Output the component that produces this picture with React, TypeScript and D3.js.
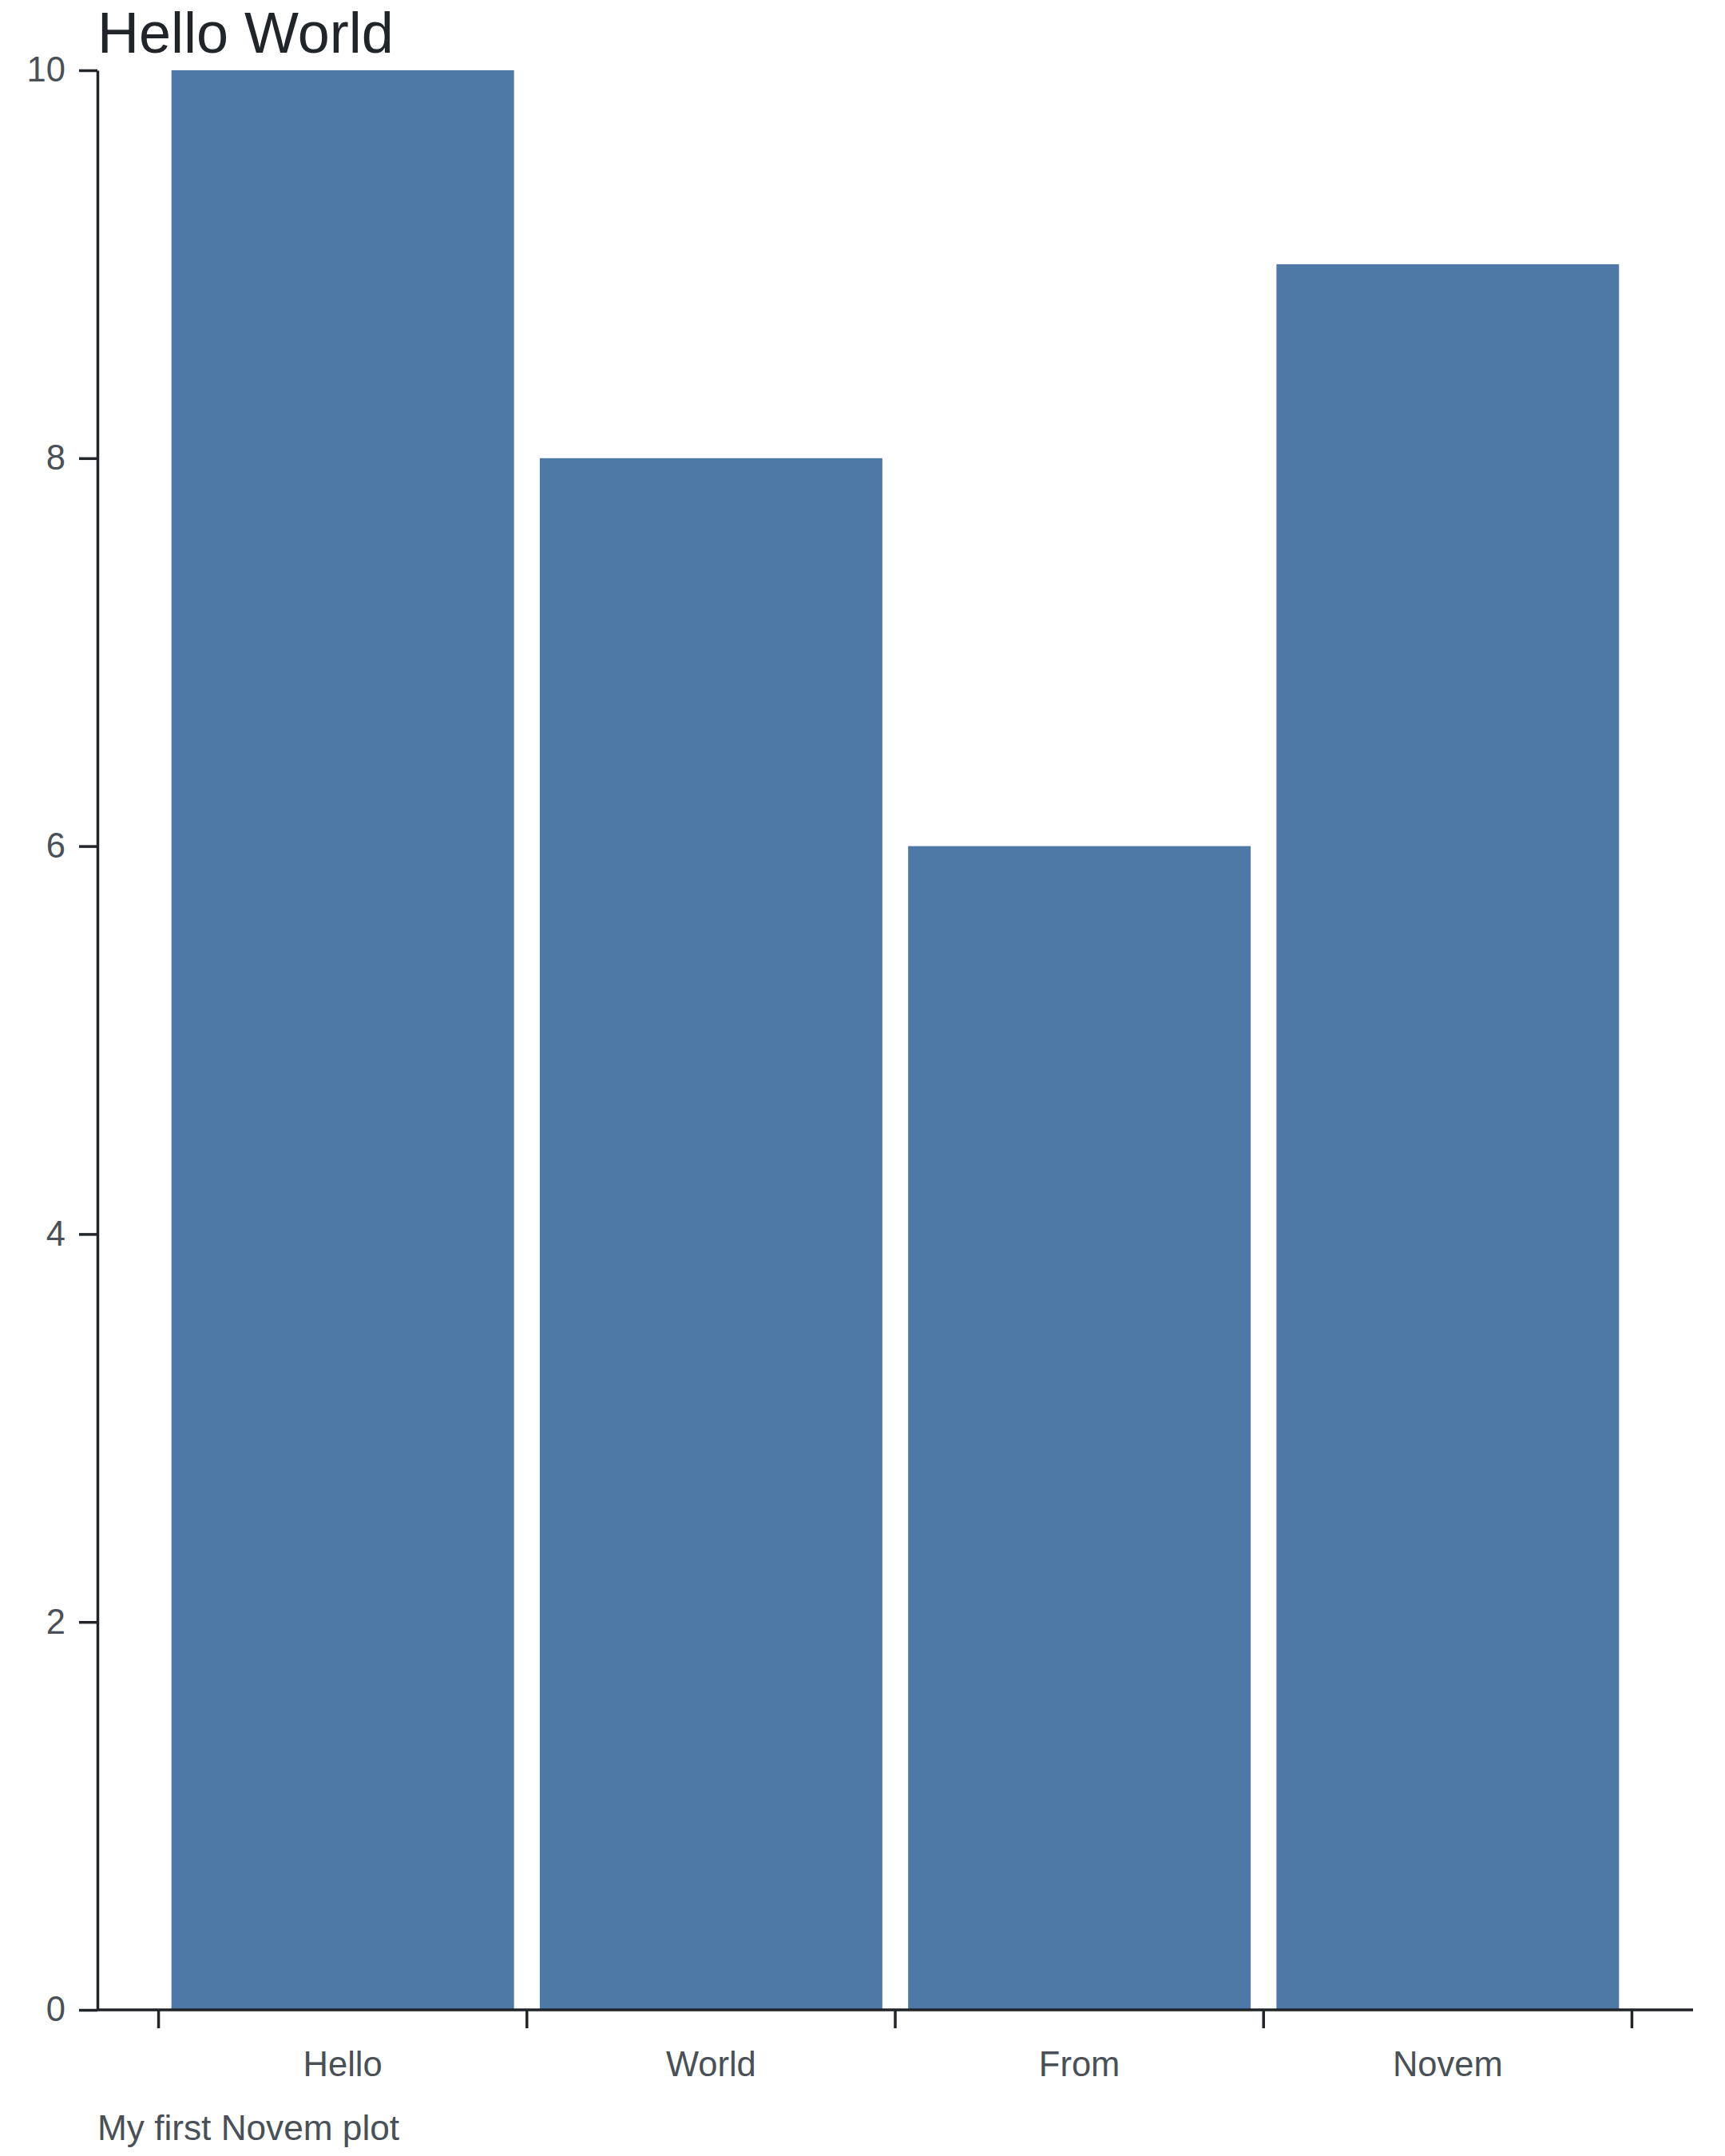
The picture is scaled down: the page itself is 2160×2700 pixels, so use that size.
import React, { useEffect, useRef } from "react";
import * as d3 from "d3";

const categories = ["Hello", "World", "From", "Novem"];
const values = [10, 8, 6, 9];
const yTicks = [0, 2, 4, 6, 8, 10];
const title = "Hello World";
const caption = "My first Novem plot";

const W = 2160;
const H = 2700;
const margin = { top: 88, right: 40, bottom: 183, left: 122 };
const FONT = "'Liberation Sans', Arial, Helvetica, sans-serif";

const App = () => {
  const svgRef = useRef<SVGSVGElement>(null);

  useEffect(() => {
    document.body.style.margin = "0";
    const svg = d3.select(svgRef.current);
    svg.selectAll("*").remove();

    const x = d3
      .scaleBand()
      .domain(categories)
      .range([margin.left, W - margin.right])
      .paddingInner(0)
      .paddingOuter(0.166);
    const y = d3
      .scaleLinear()
      .domain([0, 10])
      .range([H - margin.bottom, margin.top]);

    const barPad = 0.07;
    const step = x.step();

    // bars
    svg
      .append("g")
      .selectAll("rect")
      .data(values)
      .join("rect")
      .attr("x", (d, i) => (x(categories[i]) as number) + (step * barPad) / 2)
      .attr("width", step * (1 - barPad))
      .attr("y", (d) => y(d))
      .attr("height", (d) => y(0) - y(d))
      .attr("fill", "#4e79a7");

    // x axis: ticks on band edges, labels in band centres
    const edges = categories.map((c) => x(c) as number).concat([(x(categories[categories.length - 1]) as number) + step]);
    const gx = svg.append("g").attr("transform", `translate(0,${y(0)})`);
    gx.append("line")
      .attr("x1", margin.left)
      .attr("x2", W - margin.right)
      .attr("stroke", "#212529")
      .attr("stroke-width", 3.5);
    gx.selectAll("line.tick")
      .data(edges)
      .join("line")
      .attr("class", "tick")
      .attr("x1", (d) => d)
      .attr("x2", (d) => d)
      .attr("y1", 0)
      .attr("y2", 23)
      .attr("stroke", "#212529")
      .attr("stroke-width", 3.5);
    gx.selectAll("text")
      .data(categories)
      .join("text")
      .attr("x", (d) => (x(d) as number) + x.bandwidth() / 2)
      .attr("y", 83)
      .attr("text-anchor", "middle")
      .attr("font-family", FONT)
      .attr("font-size", 43.5)
      .attr("fill", "#495057")
      .text((d) => d);

    // y axis
    const gy = svg
      .append("g")
      .attr("transform", `translate(${margin.left},0)`)
      .call(
        d3
          .axisLeft(y)
          .tickValues(yTicks)
          .tickSize(23)
          .tickSizeOuter(0)
          .tickPadding(17)
      );
    gy.select(".domain").attr("stroke", "#212529").attr("stroke-width", 3.5);
    gy.selectAll(".tick line").attr("stroke", "#212529").attr("stroke-width", 3.5);
    gy.selectAll(".tick text")
      .attr("font-family", FONT)
      .attr("font-size", 43.5)
      .attr("fill", "#495057");

    svg
      .append("text")
      .attr("x", margin.left)
      .attr("y", 66)
      .attr("font-family", FONT)
      .attr("font-size", 72)
      .attr("fill", "#212529")
      .text(title);

    svg
      .append("text")
      .attr("x", margin.left)
      .attr("y", 2680)
      .attr("font-family", FONT)
      .attr("font-size", 44.2)
      .attr("fill", "#495057")
      .text(caption);
  }, []);

  return <svg ref={svgRef} width={W} height={H} style={{ display: "block", background: "#fff" }}></svg>;
};

export default App;
